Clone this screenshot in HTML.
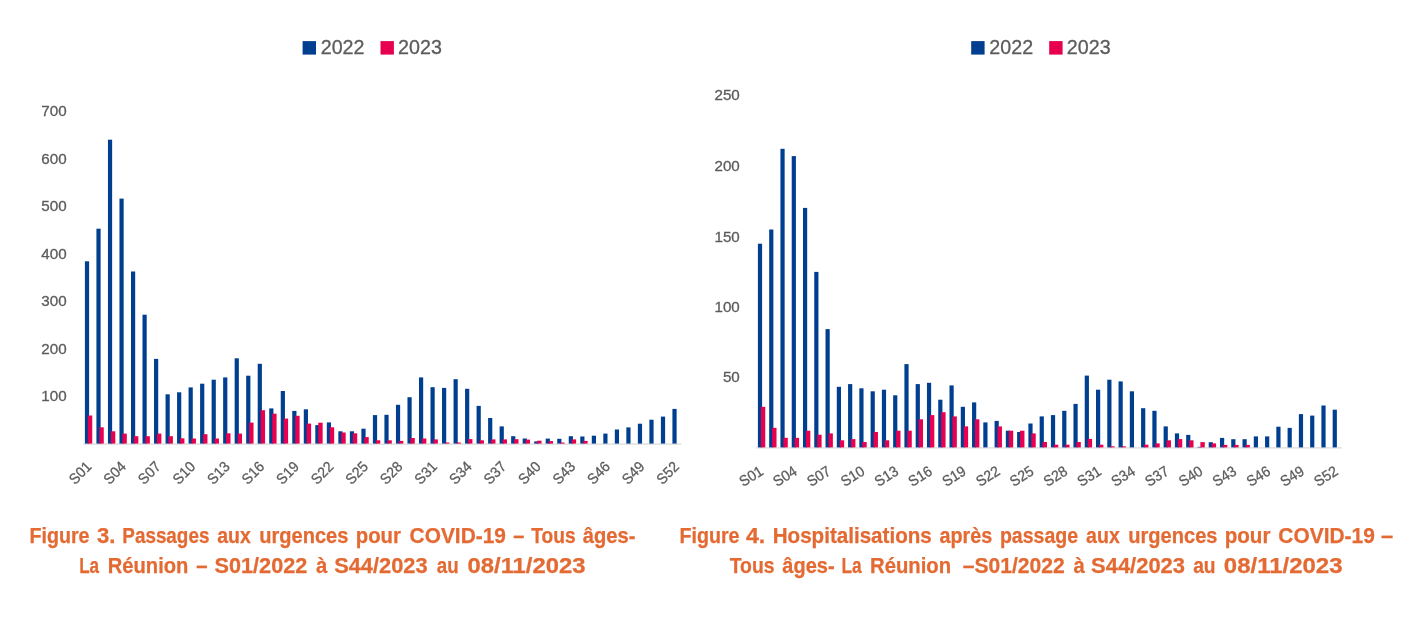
<!DOCTYPE html>
<html lang="fr">
<head>
<meta charset="utf-8">
<title>Passages aux urgences et hospitalisations pour COVID-19 – La Réunion</title>
<style>
html,body{margin:0;padding:0;background:#fff;}
body{width:1414px;height:634px;overflow:hidden;position:relative;font-family:"Liberation Sans",sans-serif;}
svg{position:absolute;left:0;top:0;display:block;}
svg text{font-family:"Liberation Sans",sans-serif;}
</style>
</head>
<body>
<svg width="1414" height="634" viewBox="0 0 1414 634">
<rect width="1414" height="634" fill="#fff"/>
<rect x="302.6" y="41.1" width="13.4" height="13.5" fill="#003F8F"/>
<rect x="380.5" y="41.1" width="13.4" height="13.5" fill="#E6004F"/>
<g font-size="19.6" fill="#5C5C5C" stroke="#5C5C5C" stroke-width="0.3">
<text x="320.7" y="53.7" textLength="43.8" lengthAdjust="spacingAndGlyphs">2022</text>
<text x="398.1" y="53.7" textLength="43.8" lengthAdjust="spacingAndGlyphs">2023</text>
</g>
<rect x="83.2" y="443.50" width="598.20" height="1.2" fill="#D9D9D9"/>
<g fill="#003F8F">
<rect x="84.90" y="261.30" width="4.2" height="182.30"/>
<rect x="96.42" y="228.70" width="4.2" height="214.90"/>
<rect x="107.94" y="139.70" width="4.2" height="303.90"/>
<rect x="119.46" y="198.60" width="4.2" height="245.00"/>
<rect x="130.98" y="271.50" width="4.2" height="172.10"/>
<rect x="142.50" y="314.70" width="4.2" height="128.90"/>
<rect x="154.02" y="358.90" width="4.2" height="84.70"/>
<rect x="165.54" y="394.30" width="4.2" height="49.30"/>
<rect x="177.06" y="392.30" width="4.2" height="51.30"/>
<rect x="188.58" y="387.40" width="4.2" height="56.20"/>
<rect x="200.10" y="383.70" width="4.2" height="59.90"/>
<rect x="211.62" y="379.70" width="4.2" height="63.90"/>
<rect x="223.14" y="377.40" width="4.2" height="66.20"/>
<rect x="234.66" y="358.30" width="4.2" height="85.30"/>
<rect x="246.18" y="375.70" width="4.2" height="67.90"/>
<rect x="257.70" y="363.80" width="4.2" height="79.80"/>
<rect x="269.22" y="408.40" width="4.2" height="35.20"/>
<rect x="280.74" y="391.00" width="4.2" height="52.60"/>
<rect x="292.26" y="410.90" width="4.2" height="32.70"/>
<rect x="303.78" y="409.30" width="4.2" height="34.30"/>
<rect x="315.30" y="425.10" width="4.2" height="18.50"/>
<rect x="326.82" y="422.40" width="4.2" height="21.20"/>
<rect x="338.34" y="431.30" width="4.2" height="12.30"/>
<rect x="349.86" y="431.30" width="4.2" height="12.30"/>
<rect x="361.38" y="428.70" width="4.2" height="14.90"/>
<rect x="372.90" y="415.10" width="4.2" height="28.50"/>
<rect x="384.42" y="414.80" width="4.2" height="28.80"/>
<rect x="395.94" y="404.80" width="4.2" height="38.80"/>
<rect x="407.46" y="397.20" width="4.2" height="46.40"/>
<rect x="418.98" y="377.40" width="4.2" height="66.20"/>
<rect x="430.50" y="387.20" width="4.2" height="56.40"/>
<rect x="442.02" y="387.90" width="4.2" height="55.70"/>
<rect x="453.54" y="379.20" width="4.2" height="64.40"/>
<rect x="465.06" y="388.80" width="4.2" height="54.80"/>
<rect x="476.58" y="405.90" width="4.2" height="37.70"/>
<rect x="488.10" y="418.00" width="4.2" height="25.60"/>
<rect x="499.62" y="426.40" width="4.2" height="17.20"/>
<rect x="511.14" y="436.20" width="4.2" height="7.40"/>
<rect x="522.66" y="438.50" width="4.2" height="5.10"/>
<rect x="534.18" y="441.40" width="4.2" height="2.20"/>
<rect x="545.70" y="438.60" width="4.2" height="5.00"/>
<rect x="557.22" y="438.80" width="4.2" height="4.80"/>
<rect x="568.74" y="436.20" width="4.2" height="7.40"/>
<rect x="580.26" y="436.50" width="4.2" height="7.10"/>
<rect x="591.78" y="435.70" width="4.2" height="7.90"/>
<rect x="603.30" y="433.60" width="4.2" height="10.00"/>
<rect x="614.82" y="429.50" width="4.2" height="14.10"/>
<rect x="626.34" y="427.40" width="4.2" height="16.20"/>
<rect x="637.86" y="423.70" width="4.2" height="19.90"/>
<rect x="649.38" y="419.70" width="4.2" height="23.90"/>
<rect x="660.90" y="416.60" width="4.2" height="27.00"/>
<rect x="672.42" y="408.90" width="4.2" height="34.70"/>
</g>
<g fill="#E6004F">
<rect x="87.85" y="415.50" width="4.4" height="28.10"/>
<rect x="99.37" y="427.30" width="4.4" height="16.30"/>
<rect x="110.89" y="431.30" width="4.4" height="12.30"/>
<rect x="122.41" y="433.60" width="4.4" height="10.00"/>
<rect x="133.93" y="436.20" width="4.4" height="7.40"/>
<rect x="145.45" y="436.20" width="4.4" height="7.40"/>
<rect x="156.97" y="433.60" width="4.4" height="10.00"/>
<rect x="168.49" y="436.20" width="4.4" height="7.40"/>
<rect x="180.01" y="438.30" width="4.4" height="5.30"/>
<rect x="191.53" y="438.50" width="4.4" height="5.10"/>
<rect x="203.05" y="434.20" width="4.4" height="9.40"/>
<rect x="214.57" y="438.50" width="4.4" height="5.10"/>
<rect x="226.09" y="433.30" width="4.4" height="10.30"/>
<rect x="237.61" y="433.60" width="4.4" height="10.00"/>
<rect x="249.13" y="422.60" width="4.4" height="21.00"/>
<rect x="260.65" y="410.20" width="4.4" height="33.40"/>
<rect x="272.17" y="413.70" width="4.4" height="29.90"/>
<rect x="283.69" y="418.60" width="4.4" height="25.00"/>
<rect x="295.21" y="415.80" width="4.4" height="27.80"/>
<rect x="306.73" y="423.60" width="4.4" height="20.00"/>
<rect x="318.25" y="422.70" width="4.4" height="20.90"/>
<rect x="329.77" y="427.30" width="4.4" height="16.30"/>
<rect x="341.29" y="432.50" width="4.4" height="11.10"/>
<rect x="352.81" y="433.30" width="4.4" height="10.30"/>
<rect x="364.33" y="437.10" width="4.4" height="6.50"/>
<rect x="375.85" y="440.30" width="4.4" height="3.30"/>
<rect x="387.37" y="440.30" width="4.4" height="3.30"/>
<rect x="398.89" y="440.90" width="4.4" height="2.70"/>
<rect x="410.41" y="438.00" width="4.4" height="5.60"/>
<rect x="421.93" y="438.50" width="4.4" height="5.10"/>
<rect x="433.45" y="439.40" width="4.4" height="4.20"/>
<rect x="444.97" y="442.50" width="4.4" height="1.10"/>
<rect x="456.49" y="442.50" width="4.4" height="1.10"/>
<rect x="468.01" y="439.10" width="4.4" height="4.50"/>
<rect x="479.53" y="440.30" width="4.4" height="3.30"/>
<rect x="491.05" y="439.40" width="4.4" height="4.20"/>
<rect x="502.57" y="439.40" width="4.4" height="4.20"/>
<rect x="514.09" y="439.20" width="4.4" height="4.40"/>
<rect x="525.61" y="439.60" width="4.4" height="4.00"/>
<rect x="537.13" y="440.70" width="4.4" height="2.90"/>
<rect x="548.65" y="441.10" width="4.4" height="2.50"/>
<rect x="560.17" y="442.50" width="4.4" height="1.10"/>
<rect x="571.69" y="439.40" width="4.4" height="4.20"/>
<rect x="583.21" y="440.90" width="4.4" height="2.70"/>
</g>
<g fill="#5C5C5C" stroke="#5C5C5C" stroke-width="0.3" font-size="14.6" text-anchor="end">
<text x="66.6" y="116.02" textLength="25.3" lengthAdjust="spacingAndGlyphs">700</text>
<text x="66.6" y="163.62" textLength="25.3" lengthAdjust="spacingAndGlyphs">600</text>
<text x="66.6" y="211.12" textLength="25.3" lengthAdjust="spacingAndGlyphs">500</text>
<text x="66.6" y="258.72" textLength="25.3" lengthAdjust="spacingAndGlyphs">400</text>
<text x="66.6" y="306.32" textLength="25.3" lengthAdjust="spacingAndGlyphs">300</text>
<text x="66.6" y="353.82" textLength="25.3" lengthAdjust="spacingAndGlyphs">200</text>
<text x="66.6" y="401.42" textLength="25.3" lengthAdjust="spacingAndGlyphs">100</text>
<text transform="translate(92.50 467.60) rotate(-45)" font-size="14.8" textLength="24.8" lengthAdjust="spacingAndGlyphs">S01</text>
<text transform="translate(127.06 467.60) rotate(-45)" font-size="14.8" textLength="24.8" lengthAdjust="spacingAndGlyphs">S04</text>
<text transform="translate(161.62 467.60) rotate(-45)" font-size="14.8" textLength="24.8" lengthAdjust="spacingAndGlyphs">S07</text>
<text transform="translate(196.18 467.60) rotate(-45)" font-size="14.8" textLength="24.8" lengthAdjust="spacingAndGlyphs">S10</text>
<text transform="translate(230.74 467.60) rotate(-45)" font-size="14.8" textLength="24.8" lengthAdjust="spacingAndGlyphs">S13</text>
<text transform="translate(265.30 467.60) rotate(-45)" font-size="14.8" textLength="24.8" lengthAdjust="spacingAndGlyphs">S16</text>
<text transform="translate(299.86 467.60) rotate(-45)" font-size="14.8" textLength="24.8" lengthAdjust="spacingAndGlyphs">S19</text>
<text transform="translate(334.42 467.60) rotate(-45)" font-size="14.8" textLength="24.8" lengthAdjust="spacingAndGlyphs">S22</text>
<text transform="translate(368.98 467.60) rotate(-45)" font-size="14.8" textLength="24.8" lengthAdjust="spacingAndGlyphs">S25</text>
<text transform="translate(403.54 467.60) rotate(-45)" font-size="14.8" textLength="24.8" lengthAdjust="spacingAndGlyphs">S28</text>
<text transform="translate(438.10 467.60) rotate(-45)" font-size="14.8" textLength="24.8" lengthAdjust="spacingAndGlyphs">S31</text>
<text transform="translate(472.66 467.60) rotate(-45)" font-size="14.8" textLength="24.8" lengthAdjust="spacingAndGlyphs">S34</text>
<text transform="translate(507.22 467.60) rotate(-45)" font-size="14.8" textLength="24.8" lengthAdjust="spacingAndGlyphs">S37</text>
<text transform="translate(541.78 467.60) rotate(-45)" font-size="14.8" textLength="24.8" lengthAdjust="spacingAndGlyphs">S40</text>
<text transform="translate(576.34 467.60) rotate(-45)" font-size="14.8" textLength="24.8" lengthAdjust="spacingAndGlyphs">S43</text>
<text transform="translate(610.90 467.60) rotate(-45)" font-size="14.8" textLength="24.8" lengthAdjust="spacingAndGlyphs">S46</text>
<text transform="translate(645.46 467.60) rotate(-45)" font-size="14.8" textLength="24.8" lengthAdjust="spacingAndGlyphs">S49</text>
<text transform="translate(680.02 467.60) rotate(-45)" font-size="14.8" textLength="24.8" lengthAdjust="spacingAndGlyphs">S52</text>
</g>
<rect x="971.2" y="41.1" width="13.4" height="13.5" fill="#003F8F"/>
<rect x="1049.2" y="41.1" width="13.4" height="13.5" fill="#E6004F"/>
<g font-size="19.6" fill="#5C5C5C" stroke="#5C5C5C" stroke-width="0.3">
<text x="989.3" y="53.6" textLength="43.8" lengthAdjust="spacingAndGlyphs">2022</text>
<text x="1066.8" y="53.6" textLength="43.8" lengthAdjust="spacingAndGlyphs">2023</text>
</g>
<rect x="756.3" y="447.30" width="585.50" height="1.2" fill="#D9D9D9"/>
<g fill="#003F8F">
<rect x="757.90" y="243.70" width="4.2" height="203.70"/>
<rect x="769.17" y="229.50" width="4.2" height="217.90"/>
<rect x="780.44" y="148.80" width="4.2" height="298.60"/>
<rect x="791.71" y="156.10" width="4.2" height="291.30"/>
<rect x="802.98" y="207.90" width="4.2" height="239.50"/>
<rect x="814.25" y="271.90" width="4.2" height="175.50"/>
<rect x="825.52" y="329.10" width="4.2" height="118.30"/>
<rect x="836.79" y="386.80" width="4.2" height="60.60"/>
<rect x="848.06" y="384.10" width="4.2" height="63.30"/>
<rect x="859.33" y="388.30" width="4.2" height="59.10"/>
<rect x="870.60" y="391.30" width="4.2" height="56.10"/>
<rect x="881.87" y="389.70" width="4.2" height="57.70"/>
<rect x="893.14" y="395.30" width="4.2" height="52.10"/>
<rect x="904.41" y="364.10" width="4.2" height="83.30"/>
<rect x="915.68" y="384.10" width="4.2" height="63.30"/>
<rect x="926.95" y="382.80" width="4.2" height="64.60"/>
<rect x="938.22" y="399.70" width="4.2" height="47.70"/>
<rect x="949.49" y="385.40" width="4.2" height="62.00"/>
<rect x="960.76" y="406.80" width="4.2" height="40.60"/>
<rect x="972.03" y="402.40" width="4.2" height="45.00"/>
<rect x="983.30" y="422.40" width="4.2" height="25.00"/>
<rect x="994.57" y="420.90" width="4.2" height="26.50"/>
<rect x="1005.84" y="430.70" width="4.2" height="16.70"/>
<rect x="1017.11" y="432.00" width="4.2" height="15.40"/>
<rect x="1028.38" y="423.50" width="4.2" height="23.90"/>
<rect x="1039.65" y="416.40" width="4.2" height="31.00"/>
<rect x="1050.92" y="415.10" width="4.2" height="32.30"/>
<rect x="1062.19" y="410.80" width="4.2" height="36.60"/>
<rect x="1073.46" y="403.90" width="4.2" height="43.50"/>
<rect x="1084.73" y="375.60" width="4.2" height="71.80"/>
<rect x="1096.00" y="389.70" width="4.2" height="57.70"/>
<rect x="1107.27" y="379.70" width="4.2" height="67.70"/>
<rect x="1118.54" y="381.40" width="4.2" height="66.00"/>
<rect x="1129.81" y="391.30" width="4.2" height="56.10"/>
<rect x="1141.08" y="408.20" width="4.2" height="39.20"/>
<rect x="1152.35" y="410.80" width="4.2" height="36.60"/>
<rect x="1163.62" y="426.40" width="4.2" height="21.00"/>
<rect x="1174.89" y="433.40" width="4.2" height="14.00"/>
<rect x="1186.16" y="434.90" width="4.2" height="12.50"/>
<rect x="1197.43" y="446.80" width="4.2" height="0.60"/>
<rect x="1208.70" y="442.20" width="4.2" height="5.20"/>
<rect x="1219.97" y="437.90" width="4.2" height="9.50"/>
<rect x="1231.24" y="439.20" width="4.2" height="8.20"/>
<rect x="1242.51" y="439.20" width="4.2" height="8.20"/>
<rect x="1253.78" y="436.40" width="4.2" height="11.00"/>
<rect x="1265.05" y="436.40" width="4.2" height="11.00"/>
<rect x="1276.32" y="426.70" width="4.2" height="20.70"/>
<rect x="1287.59" y="427.90" width="4.2" height="19.50"/>
<rect x="1298.86" y="414.10" width="4.2" height="33.30"/>
<rect x="1310.13" y="415.60" width="4.2" height="31.80"/>
<rect x="1321.40" y="405.50" width="4.2" height="41.90"/>
<rect x="1332.67" y="409.70" width="4.2" height="37.70"/>
</g>
<g fill="#E6004F">
<rect x="760.85" y="406.80" width="4.4" height="40.60"/>
<rect x="772.12" y="427.80" width="4.4" height="19.60"/>
<rect x="783.39" y="437.80" width="4.4" height="9.60"/>
<rect x="794.66" y="437.80" width="4.4" height="9.60"/>
<rect x="805.93" y="430.70" width="4.4" height="16.70"/>
<rect x="817.20" y="434.70" width="4.4" height="12.70"/>
<rect x="828.47" y="433.40" width="4.4" height="14.00"/>
<rect x="839.74" y="440.30" width="4.4" height="7.10"/>
<rect x="851.01" y="439.10" width="4.4" height="8.30"/>
<rect x="862.28" y="442.00" width="4.4" height="5.40"/>
<rect x="873.55" y="432.00" width="4.4" height="15.40"/>
<rect x="884.82" y="440.30" width="4.4" height="7.10"/>
<rect x="896.09" y="430.70" width="4.4" height="16.70"/>
<rect x="907.36" y="430.70" width="4.4" height="16.70"/>
<rect x="918.63" y="419.30" width="4.4" height="28.10"/>
<rect x="929.90" y="415.10" width="4.4" height="32.30"/>
<rect x="941.17" y="412.20" width="4.4" height="35.20"/>
<rect x="952.44" y="416.40" width="4.4" height="31.00"/>
<rect x="963.71" y="426.40" width="4.4" height="21.00"/>
<rect x="974.98" y="419.30" width="4.4" height="28.10"/>
<rect x="997.52" y="426.40" width="4.4" height="21.00"/>
<rect x="1008.79" y="430.70" width="4.4" height="16.70"/>
<rect x="1020.06" y="430.70" width="4.4" height="16.70"/>
<rect x="1031.33" y="433.40" width="4.4" height="14.00"/>
<rect x="1042.60" y="442.00" width="4.4" height="5.40"/>
<rect x="1053.87" y="444.70" width="4.4" height="2.70"/>
<rect x="1065.14" y="444.70" width="4.4" height="2.70"/>
<rect x="1076.41" y="442.00" width="4.4" height="5.40"/>
<rect x="1087.68" y="438.90" width="4.4" height="8.50"/>
<rect x="1098.95" y="444.70" width="4.4" height="2.70"/>
<rect x="1110.22" y="446.30" width="4.4" height="1.10"/>
<rect x="1121.49" y="446.30" width="4.4" height="1.10"/>
<rect x="1144.03" y="444.70" width="4.4" height="2.70"/>
<rect x="1155.30" y="443.40" width="4.4" height="4.00"/>
<rect x="1166.57" y="440.30" width="4.4" height="7.10"/>
<rect x="1177.84" y="439.10" width="4.4" height="8.30"/>
<rect x="1189.11" y="440.30" width="4.4" height="7.10"/>
<rect x="1200.38" y="442.10" width="4.4" height="5.30"/>
<rect x="1211.65" y="443.40" width="4.4" height="4.00"/>
<rect x="1222.92" y="444.90" width="4.4" height="2.50"/>
<rect x="1234.19" y="444.90" width="4.4" height="2.50"/>
<rect x="1245.46" y="444.90" width="4.4" height="2.50"/>
</g>
<g fill="#5C5C5C" stroke="#5C5C5C" stroke-width="0.3" font-size="14.6" text-anchor="end">
<text x="739.8" y="99.82" textLength="25.3" lengthAdjust="spacingAndGlyphs">250</text>
<text x="739.8" y="170.82" textLength="25.3" lengthAdjust="spacingAndGlyphs">200</text>
<text x="739.8" y="241.62" textLength="25.3" lengthAdjust="spacingAndGlyphs">150</text>
<text x="739.8" y="312.02" textLength="25.3" lengthAdjust="spacingAndGlyphs">100</text>
<text x="739.8" y="382.42" textLength="16.9" lengthAdjust="spacingAndGlyphs">50</text>
<text transform="translate(764.30 473.90) rotate(-32)" font-size="14.8" textLength="24.8" lengthAdjust="spacingAndGlyphs">S01</text>
<text transform="translate(798.11 473.90) rotate(-32)" font-size="14.8" textLength="24.8" lengthAdjust="spacingAndGlyphs">S04</text>
<text transform="translate(831.92 473.90) rotate(-32)" font-size="14.8" textLength="24.8" lengthAdjust="spacingAndGlyphs">S07</text>
<text transform="translate(865.73 473.90) rotate(-32)" font-size="14.8" textLength="24.8" lengthAdjust="spacingAndGlyphs">S10</text>
<text transform="translate(899.54 473.90) rotate(-32)" font-size="14.8" textLength="24.8" lengthAdjust="spacingAndGlyphs">S13</text>
<text transform="translate(933.35 473.90) rotate(-32)" font-size="14.8" textLength="24.8" lengthAdjust="spacingAndGlyphs">S16</text>
<text transform="translate(967.16 473.90) rotate(-32)" font-size="14.8" textLength="24.8" lengthAdjust="spacingAndGlyphs">S19</text>
<text transform="translate(1000.97 473.90) rotate(-32)" font-size="14.8" textLength="24.8" lengthAdjust="spacingAndGlyphs">S22</text>
<text transform="translate(1034.78 473.90) rotate(-32)" font-size="14.8" textLength="24.8" lengthAdjust="spacingAndGlyphs">S25</text>
<text transform="translate(1068.59 473.90) rotate(-32)" font-size="14.8" textLength="24.8" lengthAdjust="spacingAndGlyphs">S28</text>
<text transform="translate(1102.40 473.90) rotate(-32)" font-size="14.8" textLength="24.8" lengthAdjust="spacingAndGlyphs">S31</text>
<text transform="translate(1136.21 473.90) rotate(-32)" font-size="14.8" textLength="24.8" lengthAdjust="spacingAndGlyphs">S34</text>
<text transform="translate(1170.02 473.90) rotate(-32)" font-size="14.8" textLength="24.8" lengthAdjust="spacingAndGlyphs">S37</text>
<text transform="translate(1203.83 473.90) rotate(-32)" font-size="14.8" textLength="24.8" lengthAdjust="spacingAndGlyphs">S40</text>
<text transform="translate(1237.64 473.90) rotate(-32)" font-size="14.8" textLength="24.8" lengthAdjust="spacingAndGlyphs">S43</text>
<text transform="translate(1271.45 473.90) rotate(-32)" font-size="14.8" textLength="24.8" lengthAdjust="spacingAndGlyphs">S46</text>
<text transform="translate(1305.26 473.90) rotate(-32)" font-size="14.8" textLength="24.8" lengthAdjust="spacingAndGlyphs">S49</text>
<text transform="translate(1339.07 473.90) rotate(-32)" font-size="14.8" textLength="24.8" lengthAdjust="spacingAndGlyphs">S52</text>
</g>
<text y="543" font-size="21.4" font-weight="bold" fill="#E46A33" stroke="#E46A33" stroke-width="0.25"><tspan x="29.5" textLength="60.0" lengthAdjust="spacingAndGlyphs">Figure</tspan> <tspan x="96.9" textLength="18.4" lengthAdjust="spacingAndGlyphs">3.</tspan> <tspan x="122.3" textLength="87.1" lengthAdjust="spacingAndGlyphs">Passages</tspan> <tspan x="217.2" textLength="33.6" lengthAdjust="spacingAndGlyphs">aux</tspan> <tspan x="259.2" textLength="89.2" lengthAdjust="spacingAndGlyphs">urgences</tspan> <tspan x="355.8" textLength="45.1" lengthAdjust="spacingAndGlyphs">pour</tspan> <tspan x="409.6" textLength="96.3" lengthAdjust="spacingAndGlyphs">COVID-19</tspan> <tspan x="513.3" textLength="11.1" lengthAdjust="spacingAndGlyphs">–</tspan> <tspan x="531.3" textLength="44.3" lengthAdjust="spacingAndGlyphs">Tous</tspan> <tspan x="582.8" textLength="52.6" lengthAdjust="spacingAndGlyphs">âges-</tspan></text>
<text y="573" font-size="21.4" font-weight="bold" fill="#E46A33" stroke="#E46A33" stroke-width="0.25"><tspan x="79.2" textLength="19.9" lengthAdjust="spacingAndGlyphs">La</tspan> <tspan x="107.8" textLength="80.6" lengthAdjust="spacingAndGlyphs">Réunion</tspan> <tspan x="196.2" textLength="11.3" lengthAdjust="spacingAndGlyphs">–</tspan> <tspan x="214.5" textLength="92.8" lengthAdjust="spacingAndGlyphs">S01/2022</tspan> <tspan x="316.1" textLength="11.3" lengthAdjust="spacingAndGlyphs">à</tspan> <tspan x="334.2" textLength="93.4" lengthAdjust="spacingAndGlyphs">S44/2023</tspan> <tspan x="436.8" textLength="21.9" lengthAdjust="spacingAndGlyphs">au</tspan> <tspan x="467.5" textLength="118.0" lengthAdjust="spacingAndGlyphs">08/11/2023</tspan></text>
<text y="543" font-size="21.4" font-weight="bold" fill="#E46A33" stroke="#E46A33" stroke-width="0.25"><tspan x="679.5" textLength="60.0" lengthAdjust="spacingAndGlyphs">Figure</tspan> <tspan x="746.0" textLength="19.3" lengthAdjust="spacingAndGlyphs">4.</tspan> <tspan x="772.7" textLength="159.1" lengthAdjust="spacingAndGlyphs">Hospitalisations</tspan> <tspan x="939.4" textLength="52.8" lengthAdjust="spacingAndGlyphs">après</tspan> <tspan x="999.9" textLength="78.2" lengthAdjust="spacingAndGlyphs">passage</tspan> <tspan x="1086.1" textLength="33.7" lengthAdjust="spacingAndGlyphs">aux</tspan> <tspan x="1128.3" textLength="89.2" lengthAdjust="spacingAndGlyphs">urgences</tspan> <tspan x="1224.7" textLength="45.7" lengthAdjust="spacingAndGlyphs">pour</tspan> <tspan x="1278.3" textLength="96.5" lengthAdjust="spacingAndGlyphs">COVID-19</tspan> <tspan x="1381.1" textLength="12.2" lengthAdjust="spacingAndGlyphs">–</tspan></text>
<text y="573" font-size="21.4" font-weight="bold" fill="#E46A33" stroke="#E46A33" stroke-width="0.25"><tspan x="729.7" textLength="44.8" lengthAdjust="spacingAndGlyphs">Tous</tspan> <tspan x="782.3" textLength="52.3" lengthAdjust="spacingAndGlyphs">âges-</tspan> <tspan x="841.5" textLength="20.2" lengthAdjust="spacingAndGlyphs">La</tspan> <tspan x="870.1" textLength="81.0" lengthAdjust="spacingAndGlyphs">Réunion</tspan> <tspan x="962.7" textLength="102.0" lengthAdjust="spacingAndGlyphs">–S01/2022</tspan> <tspan x="1073.5" textLength="11.3" lengthAdjust="spacingAndGlyphs">à</tspan> <tspan x="1091.1" textLength="93.9" lengthAdjust="spacingAndGlyphs">S44/2023</tspan> <tspan x="1193.2" textLength="22.4" lengthAdjust="spacingAndGlyphs">au</tspan> <tspan x="1223.8" textLength="118.7" lengthAdjust="spacingAndGlyphs">08/11/2023</tspan></text>
</svg>
</body>
</html>
